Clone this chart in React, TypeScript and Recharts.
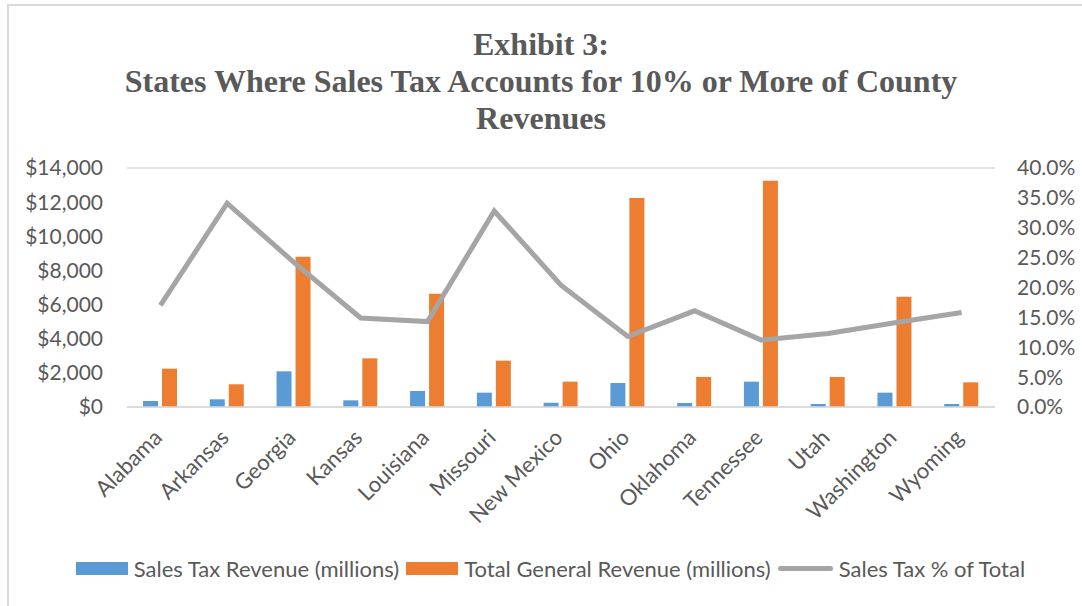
import { ComposedChart, Bar, Line, XAxis, YAxis, CartesianGrid, Legend } from 'recharts'

const states = [
  'Alabama', 'Arkansas', 'Georgia', 'Kansas', 'Louisiana', 'Missouri', 'New Mexico',
  'Ohio', 'Oklahoma', 'Tennessee', 'Utah', 'Washington', 'Wyoming',
]
const salesTax = [350, 450, 2090, 390, 940, 840, 250, 1405, 235, 1485, 175, 840, 175]
const totalRevenue = [2245, 1330, 8805, 2850, 6640, 2715, 1485, 12240, 1760, 13255, 1760, 6460, 1445]
const salesTaxPct = [0.17, 0.341, 0.242, 0.149, 0.143, 0.328, 0.204, 0.118, 0.161, 0.112, 0.123, 0.141, 0.158]

const leftTicks = [0, 2000, 4000, 6000, 8000, 10000, 12000, 14000]
const rightTicks = [0, 0.05, 0.1, 0.15, 0.2, 0.25, 0.3, 0.35, 0.4]

const legendItems = [
  { label: 'Sales Tax Revenue (millions)', color: '#5b9bd5', kind: 'bar' },
  { label: 'Total General Revenue (millions)', color: '#ed7d31', kind: 'bar' },
  { label: 'Sales Tax % of Total', color: '#a5a5a5', kind: 'line' },
]

const chartData = states.map((s, i) => ({
  state: s,
  tax: salesTax[i],
  total: totalRevenue[i],
  pct: salesTaxPct[i],
}))

const textColor = '#595959'
const font = 'Lato, "Open Sans", sans-serif'

function StateTick({ x, y, payload }: any) {
  return (
    <g transform={`translate(${x + 3},${y + 24})`}>
      <text
        x={0}
        y={0}
        textAnchor="end"
        transform="rotate(-45)"
        fill={textColor}
        fontSize={22}
        fontFamily={font}
      >
        {payload.value}
      </text>
    </g>
  )
}

function LegendContent() {
  return (
    <div style={{ display: 'flex', justifyContent: 'center', alignItems: 'center', fontFamily: font, fontSize: 22, color: textColor, paddingLeft: 26 }}>
      {legendItems.map(item => (
        <div key={item.label} style={{ display: 'flex', alignItems: 'center', marginRight: 7 }}>
          {item.kind === 'bar' ? (
            <span style={{ display: 'inline-block', width: 52, height: 13, background: item.color, marginRight: 6 }} />
          ) : (
            <span style={{ display: 'inline-block', width: 55, height: 5, borderRadius: 3, background: item.color, marginRight: 6 }} />
          )}
          <span>{item.label}</span>
        </div>
      ))}
    </div>
  )
}

export default function App() {
  return (
    <div style={{ position: 'absolute', left: 0, top: 0, width: 1082, height: 606, background: 'white', overflow: 'hidden' }}>
      {/* chart frame */}
      <div style={{ position: 'absolute', left: 7, top: 4, width: 1100, height: 620, borderLeft: '2px solid #d9d9d9', borderTop: '2px solid #d9d9d9' }} />
      <div
        style={{
          position: 'absolute',
          left: 0,
          top: 26,
          width: 1082,
          textAlign: 'center',
          fontFamily: '"Liberation Serif", "Times New Roman", serif',
          fontWeight: 'bold',
          fontSize: 32,
          lineHeight: '37px',
          color: textColor,
        }}
      >
        Exhibit 3:
        <br />
        States Where Sales Tax Accounts for 10% or More of County
        <br />
        Revenues
      </div>
      <ComposedChart
        width={1082}
        height={606}
        data={chartData}
        margin={{ top: 168, right: 7, bottom: 79, left: 7 }}
        barSize={15}
        barGap={4}
        style={{ position: 'absolute', left: 0, top: 0 }}
      >
        <CartesianGrid vertical={false} stroke="#d9d9d9" strokeWidth={1.5} />
        <XAxis
          dataKey="state"
          interval={0}
          height={120}
          tick={<StateTick />}
          tickLine={false}
          axisLine={{ stroke: '#d9d9d9', strokeWidth: 1.5 }}
        />
        <YAxis
          yAxisId="left"
          width={120}
          domain={[0, 14000]}
          ticks={leftTicks}
          interval={0}
          tickFormatter={(v: number) => `$${v.toLocaleString('en-US')}`}
          tick={{ fill: textColor, fontSize: 21, fontFamily: font }}
          tickSize={0}
          tickMargin={24}
          axisLine={false}
          tickLine={false}
        />
        <YAxis
          yAxisId="right"
          orientation="right"
          width={80}
          domain={[0, 0.4]}
          ticks={rightTicks}
          interval={0}
          tickFormatter={(v: number) => `${(v * 100).toFixed(1)}%`}
          tick={{ fill: textColor, fontSize: 21, fontFamily: font, textAnchor: 'start' }}
          tickSize={0}
          tickMargin={22}
          axisLine={false}
          tickLine={false}
        />
        <Legend
          layout="horizontal"
          verticalAlign="middle"
          align="center"
          content={<LegendContent />}
          wrapperStyle={{ top: 555, left: 0, width: 1082 }}
        />
        <Bar yAxisId="left" dataKey="tax" name="Sales Tax Revenue (millions)" fill="#5b9bd5" isAnimationActive={false} />
        <Bar yAxisId="left" dataKey="total" name="Total General Revenue (millions)" fill="#ed7d31" isAnimationActive={false} />
        <Line
          yAxisId="right"
          dataKey="pct"
          name="Sales Tax % of Total"
          stroke="#a5a5a5"
          strokeWidth={5}
          dot={false}
          activeDot={false}
          isAnimationActive={false}
        />
      </ComposedChart>
    </div>
  )
}
